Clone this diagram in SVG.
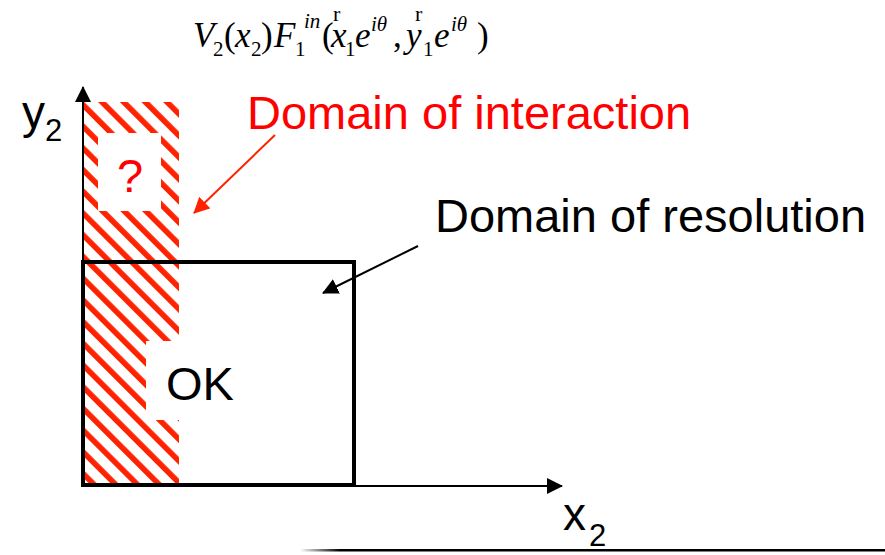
<svg xmlns="http://www.w3.org/2000/svg" width="885" height="555" viewBox="0 0 885 555">
<style>
.sans{font-family:"Liberation Sans",Arial,sans-serif}
.m{font-family:"Liberation Serif","Times New Roman",serif;fill:#000}
.it{font-style:italic}
.b{font-size:35px}
.s{font-size:21px}
.acc{font-size:22px}
.lbl{font-size:47px}
.ax{stroke:#000;stroke-width:2;fill:none}
</style>
<defs>
<pattern id="hatch" patternUnits="userSpaceOnUse" width="15.34" height="15.34" patternTransform="translate(-4 0) rotate(-45)">
<rect x="0" y="0" width="5.6" height="15.34" fill="#FF2200"/>
</pattern>
<marker id="ahB" markerWidth="16" markerHeight="16" refX="15" refY="8" orient="auto" markerUnits="userSpaceOnUse">
<path d="M0,0 L16,8 L0,16 Z" fill="#000"/>
</marker>
<marker id="ahR" markerWidth="16" markerHeight="16" refX="15" refY="8" orient="auto" markerUnits="userSpaceOnUse">
<path d="M0,0 L16,8 L0,16 Z" fill="#FF2200"/>
</marker>
<linearGradient id="fade" x1="300" y1="0" x2="340" y2="0" gradientUnits="userSpaceOnUse">
<stop offset="0" stop-color="#000" stop-opacity="0"/>
<stop offset="1" stop-color="#000" stop-opacity="1"/>
</linearGradient>
</defs>
<rect width="885" height="555" fill="#fff"/>

<g id="formula" class="m">
<text x="193" y="47" class="b it">V</text>
<text x="213" y="56" class="s">2</text>
<text x="224" y="47" class="b">(</text>
<text x="235" y="47" class="b it">x</text>
<text x="251" y="56" class="s">2</text>
<text x="261" y="47" class="b">)</text>
<text x="274" y="47" class="b it">F</text>
<text x="295" y="56" class="s">1</text>
<text x="304" y="28" class="s it">in</text>
<text x="322" y="47" class="b">(</text>
<text x="333" y="21" class="acc">r</text>
<text x="331" y="47" class="b it">x</text>
<text x="345" y="56" class="s">1</text>
<text x="355" y="47" class="b it">e</text>
<text x="371" y="31" class="s it">iθ</text>
<text x="393" y="47" class="b">,</text>
<text x="415" y="21" class="acc">r</text>
<text x="406" y="47" class="b it">y</text>
<text x="423" y="56" class="s">1</text>
<text x="434" y="47" class="b it">e</text>
<text x="451" y="31" class="s it">iθ</text>
<text x="477" y="47" class="b">)</text>
</g>

<g id="interaction-domain">
<path d="M83,102 H179 V485 H83 Z M98,133 V211 H161 V133 Z M146,341 V420 H179 V341 Z" fill="url(#hatch)" fill-rule="evenodd"/>
<text x="130" y="192" class="sans lbl" text-anchor="middle" fill="#FF0000">?</text>
</g>

<g id="resolution-domain">
<rect x="83" y="262" width="271" height="223" fill="none" stroke="#000" stroke-width="4"/>
<text x="166" y="400" class="sans lbl" fill="#000">OK</text>
</g>

<g id="axes">
<line x1="83" y1="487" x2="83" y2="87" class="ax" marker-end="url(#ahB)"/>
<line x1="354" y1="486" x2="562" y2="486" class="ax" marker-end="url(#ahB)"/>
<text x="22" y="128" class="sans" font-size="46">y</text>
<text x="45" y="141" class="sans" font-size="31">2</text>
<text x="563" y="530" class="sans" font-size="46">x</text>
<text x="589" y="546" class="sans" font-size="31">2</text>
</g>

<g id="label-interaction">
<text x="247" y="129" class="sans lbl" fill="#FF0000">Domain of interaction</text>
</g>
<g id="label-resolution">
<text x="435" y="232" class="sans lbl" fill="#000">Domain of resolution</text>
</g>

<g id="connectors">
<line x1="275" y1="135" x2="194" y2="213" stroke="#FF2200" stroke-width="2" marker-end="url(#ahR)"/>
<line x1="418" y1="246" x2="323" y2="293" stroke="#000" stroke-width="2" marker-end="url(#ahB)"/>
</g>

<g id="footer-line">
<rect x="300" y="549" width="585" height="2.5" fill="url(#fade)"/>
</g>
</svg>
